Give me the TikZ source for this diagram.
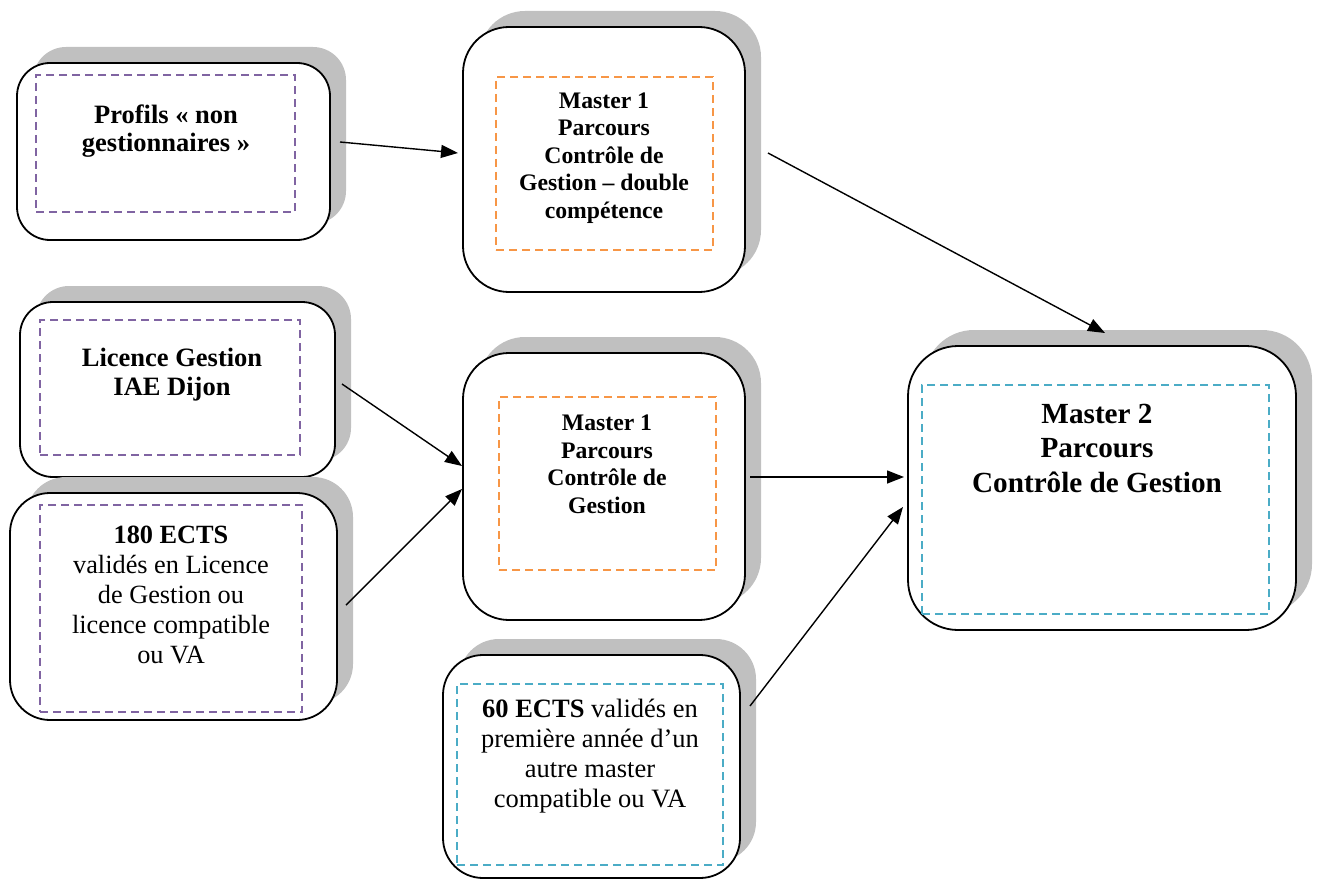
\documentclass[tikz,border=0pt]{standalone}
\usepackage{fontspec}
\setmainfont{Liberation Serif}
\usetikzlibrary{shadows,arrows.meta}

\definecolor{ombre}{RGB}{192,192,192}
\definecolor{lilas}{RGB}{128,100,162}
\definecolor{orangec}{RGB}{247,150,70}
\definecolor{turquoise}{RGB}{75,172,198}

\begin{document}
\begin{tikzpicture}
[x=1pt,y=-1pt,
 every node/.style={inner sep=0pt,outer sep=0pt},
 cadre/.style={draw=black,line width=1.8pt,fill=white,rounded corners=#1,
   drop shadow={shadow xshift=16pt,shadow yshift=16pt,fill=ombre,opacity=1}},
 pointille/.style={draw=#1,line width=2pt,dash pattern=on 8pt off 5pt},
 texte/.style={align=center},
 fleche/.style={-{Triangle[length=17pt,width=13pt]},line width=1.4pt}]
\useasboundingbox (0,0) rectangle (1319,880);
% cadres arrondis
\node[cadre=33pt,minimum width=313pt,minimum height=177pt] (profils) at (173.5,151.5) {};
\node[cadre=46pt,minimum width=282pt,minimum height=265pt] (mdouble) at (604,159.5) {};
\node[cadre=33pt,minimum width=315pt,minimum height=175pt] (licence) at (177.5,389.5) {};
\node[cadre=40pt,minimum width=327pt,minimum height=227pt] (ects180) at (173.5,606.5) {};
\node[cadre=46pt,minimum width=282pt,minimum height=267pt] (mcg)     at (604,486.5) {};
\node[cadre=40pt,minimum width=297pt,minimum height=223pt] (ects60)  at (591.5,766.5) {};
\node[cadre=50pt,minimum width=388pt,minimum height=284pt] (mdeux)   at (1102,488) {};
% cadres pointilles
\node[pointille=lilas,minimum width=259pt,minimum height=137pt]     (dprofils) at (165.5,143.5) {};
\node[pointille=orangec,minimum width=217pt,minimum height=173pt]   (ddouble)  at (604.5,163.5) {};
\node[pointille=lilas,minimum width=260pt,minimum height=135pt]     (dlicence) at (170,387.5) {};
\node[pointille=lilas,minimum width=262pt,minimum height=207pt]     (d180)     at (171,608.5) {};
\node[pointille=orangec,minimum width=217pt,minimum height=173pt]   (dmcg)     at (607.5,483.5) {};
\node[pointille=turquoise,minimum width=266pt,minimum height=181pt] (d60)      at (590,774.5) {};
\node[pointille=turquoise,minimum width=347pt,minimum height=229pt] (ddeux)    at (1095.5,499.5) {};
% textes
\node[texte,font=\fontsize{26.5}{28.5}\selectfont\bfseries] (tprofils) at (166,131)
  {Profils « non\\gestionnaires »};
\node[texte,font=\fontsize{23.7}{27.5}\selectfont\bfseries] (tdouble) at (604,158)
  {Master 1\\Parcours\\Contrôle de\\Gestion – double\\compétence};
\node[texte,font=\fontsize{26.5}{29}\selectfont\bfseries] (tlicence) at (172,375)
  {Licence Gestion\\IAE Dijon};
\node[texte,font=\fontsize{26.3}{30}\selectfont] (t180) at (171,595)
  {\textbf{180 ECTS}\\validés en Licence\\de Gestion ou\\licence compatible\\ou VA};
\node[texte,font=\fontsize{23.7}{27.5}\selectfont\bfseries] (tmcg) at (607,464.5)
  {Master 1\\Parcours\\Contrôle de\\Gestion};
\node[texte,font=\fontsize{26.5}{30}\selectfont] (t60) at (590,756)
  {\textbf{60 ECTS} validés en\\première année d’un\\autre master\\compatible ou VA};
\node[texte,font=\fontsize{29.2}{34.5}\selectfont\bfseries] (tdeux) at (1097,448)
  {Master 2\\Parcours\\Contrôle de Gestion};
% fleches
\draw[fleche] ([shift={(10,-9.5)}]profils.east) -- ([shift={(-5,-6.5)}]mdouble.west);
\draw[fleche] ([shift={(23,-6.5)}]mdouble.east) -- ([shift={(3,-13)}]mdeux.north);
\draw[fleche] ([shift={(7,-5.5)}]licence.east) -- ([shift={(-1,-20.5)}]mcg.west);
\draw[fleche] ([shift={(9,-1.5)}]ects180.east) -- ([shift={(-1,2.5)}]mcg.west);
\draw[fleche] ([shift={(5,-9.5)}]mcg.east) -- ([shift={(-4,-11)}]mdeux.west);
\draw[fleche] ([shift={(10,-60.5)}]ects60.east) -- ([shift={(-5,19)}]mdeux.west);
\end{tikzpicture}
\end{document}
